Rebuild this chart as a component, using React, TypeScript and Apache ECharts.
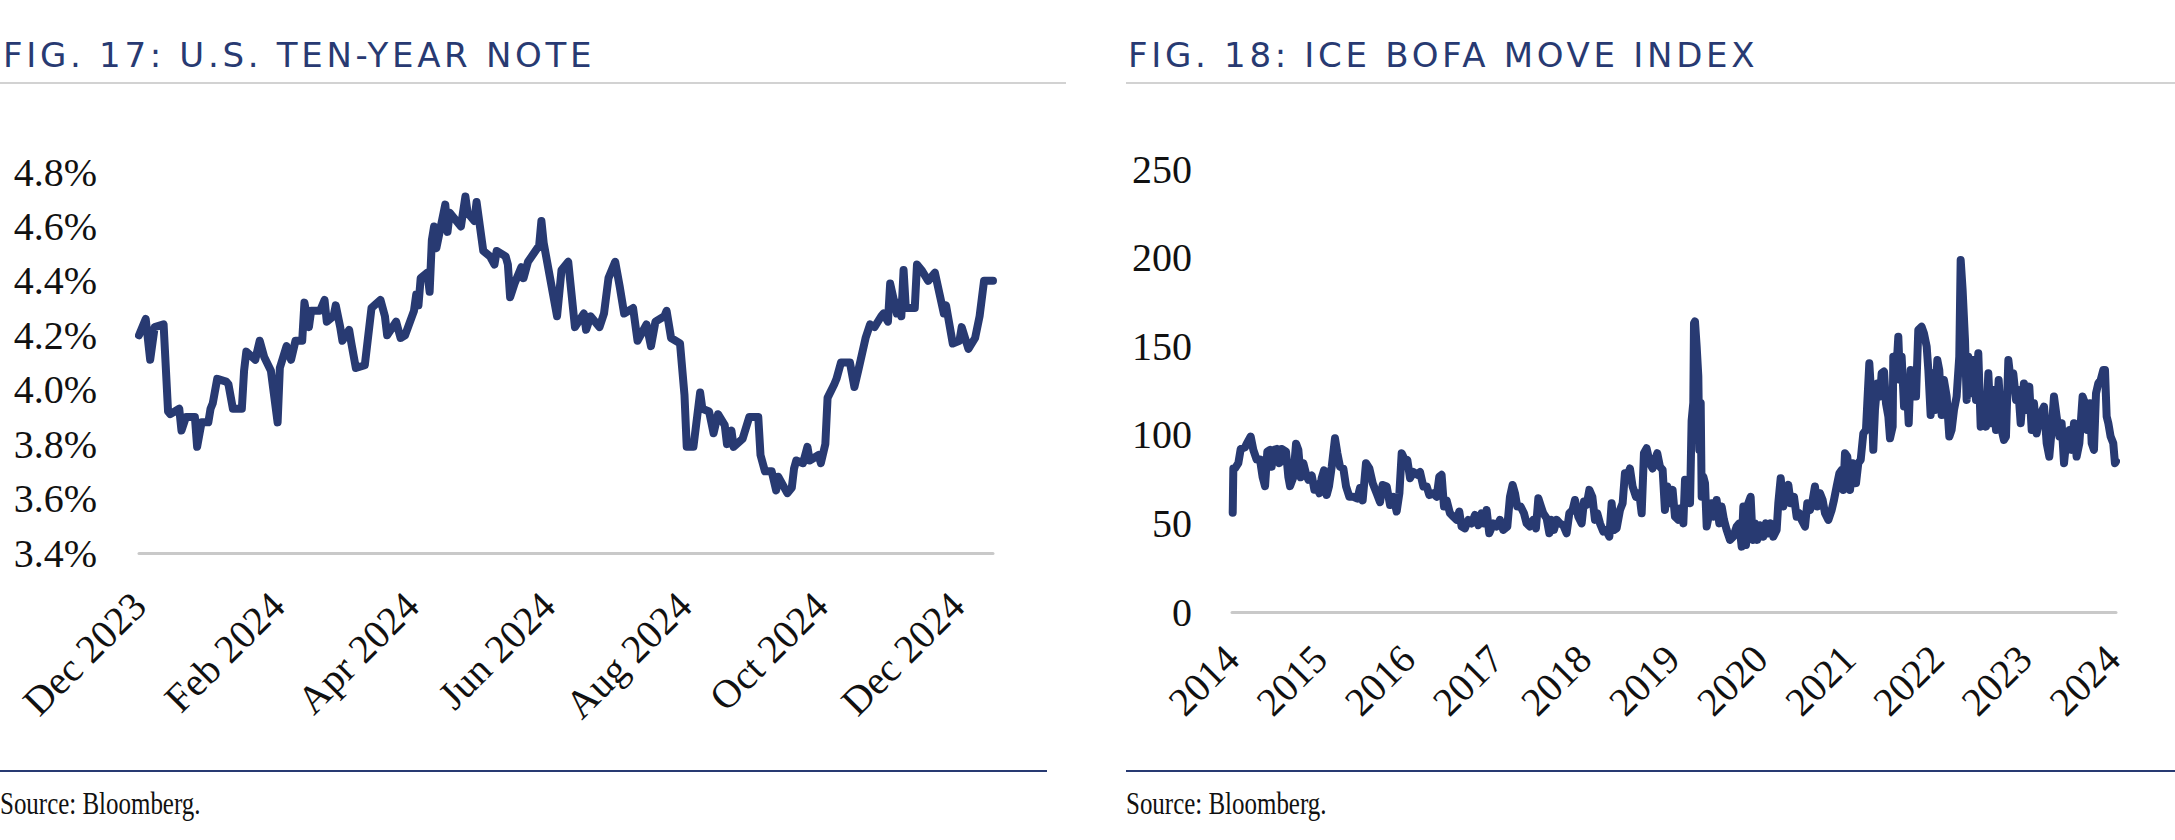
import React, { useEffect, useRef } from 'react';
import * as echarts from 'echarts';

// ---------- FIG. 17: U.S. ten-year note yield (%) ----------
const T10_DATES = [
  '2023-12-01', '2023-12-04', '2023-12-06', '2023-12-08', '2023-12-12', '2023-12-14', '2023-12-15', '2023-12-19',
  '2023-12-20', '2023-12-22', '2023-12-26', '2023-12-27', '2023-12-29', '2024-01-01', '2024-01-02', '2024-01-03',
  '2024-01-05', '2024-01-09', '2024-01-10', '2024-01-12', '2024-01-16', '2024-01-17', '2024-01-18', '2024-01-22',
  '2024-01-24', '2024-01-26', '2024-01-29', '2024-02-01', '2024-02-02', '2024-02-05', '2024-02-07', '2024-02-09',
  '2024-02-12', '2024-02-13', '2024-02-15', '2024-02-16', '2024-02-20', '2024-02-22', '2024-02-23', '2024-02-26',
  '2024-02-27', '2024-02-29', '2024-03-01', '2024-03-04', '2024-03-05', '2024-03-07', '2024-03-11', '2024-03-14',
  '2024-03-18', '2024-03-20', '2024-03-21', '2024-03-25', '2024-03-27', '2024-03-29', '2024-04-02', '2024-04-03',
  '2024-04-04', '2024-04-05', '2024-04-08', '2024-04-09', '2024-04-10', '2024-04-11', '2024-04-12', '2024-04-16',
  '2024-04-17', '2024-04-18', '2024-04-23', '2024-04-25', '2024-04-26', '2024-04-29', '2024-04-30', '2024-05-03',
  '2024-05-06', '2024-05-08', '2024-05-09', '2024-05-13', '2024-05-14', '2024-05-15', '2024-05-17', '2024-05-20',
  '2024-05-21', '2024-05-23', '2024-05-28', '2024-05-29', '2024-05-30', '2024-06-03', '2024-06-05', '2024-06-07',
  '2024-06-10', '2024-06-11', '2024-06-13', '2024-06-17', '2024-06-18', '2024-06-20', '2024-06-24', '2024-06-26',
  '2024-06-28', '2024-07-01', '2024-07-03', '2024-07-05', '2024-07-09', '2024-07-11', '2024-07-15', '2024-07-17',
  '2024-07-19', '2024-07-23', '2024-07-24', '2024-07-26', '2024-07-30', '2024-08-01', '2024-08-02', '2024-08-05',
  '2024-08-08', '2024-08-09', '2024-08-12', '2024-08-14', '2024-08-16', '2024-08-19', '2024-08-20', '2024-08-22',
  '2024-08-23', '2024-08-27', '2024-08-30', '2024-09-03', '2024-09-04', '2024-09-06', '2024-09-09', '2024-09-11',
  '2024-09-12', '2024-09-16', '2024-09-18', '2024-09-19', '2024-09-20', '2024-09-23', '2024-09-25', '2024-09-26',
  '2024-09-30', '2024-10-01', '2024-10-03', '2024-10-04', '2024-10-07', '2024-10-08', '2024-10-10', '2024-10-14',
  '2024-10-16', '2024-10-18', '2024-10-21', '2024-10-23', '2024-10-25', '2024-10-28', '2024-10-29', '2024-10-31',
  '2024-11-01', '2024-11-04', '2024-11-05', '2024-11-06', '2024-11-07', '2024-11-08', '2024-11-12', '2024-11-13',
  '2024-11-15', '2024-11-18', '2024-11-21', '2024-11-25', '2024-11-26', '2024-11-29', '2024-12-02', '2024-12-03',
  '2024-12-06', '2024-12-09', '2024-12-11', '2024-12-13', '2024-12-17',
];
const T10_YIELDS = [
  4.20, 4.26, 4.11, 4.23, 4.24, 3.92, 3.91, 3.93,
  3.85, 3.90, 3.90, 3.79, 3.88, 3.88, 3.93, 3.95,
  4.04, 4.03, 4.02, 3.93, 3.93, 4.07, 4.14, 4.11,
  4.18, 4.12, 4.07, 3.88, 4.08, 4.16, 4.11, 4.18,
  4.18, 4.32, 4.23, 4.29, 4.29, 4.33, 4.25, 4.27,
  4.31, 4.23, 4.18, 4.22, 4.17, 4.08, 4.09, 4.30,
  4.33, 4.27, 4.20, 4.25, 4.19, 4.20, 4.29, 4.35,
  4.31, 4.41, 4.43, 4.36, 4.55, 4.60, 4.52, 4.68,
  4.58, 4.65, 4.60, 4.71, 4.65, 4.62, 4.69, 4.51,
  4.49, 4.46, 4.51, 4.49, 4.46, 4.34, 4.39, 4.45,
  4.41, 4.47, 4.53, 4.62, 4.54, 4.36, 4.27, 4.44,
  4.47, 4.39, 4.23, 4.28, 4.22, 4.27, 4.23, 4.28,
  4.41, 4.47, 4.38, 4.28, 4.30, 4.18, 4.24, 4.16,
  4.25, 4.27, 4.29, 4.19, 4.17, 3.98, 3.79, 3.79,
  3.99, 3.93, 3.92, 3.84, 3.91, 3.87, 3.80, 3.85,
  3.79, 3.82, 3.90, 3.90, 3.76, 3.70, 3.70, 3.63,
  3.68, 3.62, 3.64, 3.71, 3.74, 3.73, 3.79, 3.74,
  3.76, 3.73, 3.80, 3.97, 4.02, 4.04, 4.10, 4.10,
  4.01, 4.08, 4.19, 4.24, 4.23, 4.27, 4.28, 4.25,
  4.39, 4.28, 4.32, 4.27, 4.44, 4.30, 4.30, 4.46,
  4.44, 4.40, 4.43, 4.28, 4.31, 4.17, 4.18, 4.23,
  4.15, 4.19, 4.27, 4.40, 4.40,
];
const T10_LABEL_DATES = ['2023-12-01', '2024-02-01', '2024-04-01', '2024-06-01', '2024-08-01', '2024-10-01', '2024-12-01'];
const T10_AXIS_MIN = 3.4;
const T10_AXIS_MAX = 4.8;
const T10_AXIS_STEP = 0.2;

// ---------- FIG. 18: ICE BofA MOVE index (time in decimal years) ----------
const MOVE_TIME = [
  2014.958, 2014.965, 2014.984, 2015.022, 2015.049, 2015.098, 2015.117, 2015.162, 2015.192, 2015.230,
  2015.268, 2015.298, 2015.325, 2015.351, 2015.382, 2015.400, 2015.427, 2015.457, 2015.488, 2015.514,
  2015.563, 2015.590, 2015.609, 2015.646, 2015.677, 2015.703, 2015.730, 2015.760, 2015.790, 2015.817,
  2015.855, 2015.885, 2015.911, 2015.942, 2015.968, 2015.995, 2016.025, 2016.051, 2016.082, 2016.119,
  2016.146, 2016.176, 2016.214, 2016.244, 2016.282, 2016.327, 2016.373, 2016.403, 2016.433, 2016.471,
  2016.509, 2016.547, 2016.592, 2016.630, 2016.660, 2016.706, 2016.744, 2016.781, 2016.819, 2016.850,
  2016.876, 2016.903, 2016.940, 2016.971, 2017.009, 2017.054, 2017.084, 2017.122, 2017.160, 2017.190,
  2017.235, 2017.273, 2017.303, 2017.329, 2017.356, 2017.386, 2017.424, 2017.462, 2017.500, 2017.530,
  2017.556, 2017.594, 2017.632, 2017.670, 2017.708, 2017.746, 2017.783, 2017.810, 2017.840, 2017.870,
  2017.916, 2017.954, 2017.992, 2018.029, 2018.075, 2018.105, 2018.135, 2018.162, 2018.188, 2018.226,
  2018.264, 2018.294, 2018.332, 2018.370, 2018.400, 2018.427, 2018.457, 2018.483, 2018.521, 2018.552,
  2018.578, 2018.604, 2018.635, 2018.673, 2018.710, 2018.748, 2018.779, 2018.816, 2018.843, 2018.881,
  2018.919, 2018.945, 2018.975, 2019.006, 2019.040, 2019.070, 2019.096, 2019.127, 2019.164, 2019.195,
  2019.233, 2019.259, 2019.286, 2019.316, 2019.354, 2019.384, 2019.410, 2019.437, 2019.467, 2019.497,
  2019.535, 2019.573, 2019.600, 2019.626, 2019.656, 2019.694, 2019.724, 2019.751, 2019.777, 2019.808,
  2019.838, 2019.864, 2019.891, 2019.921, 2019.951, 2019.978, 2020.016, 2020.042, 2020.073, 2020.092,
  2020.130, 2020.149, 2020.167, 2020.186, 2020.194, 2020.205, 2020.224, 2020.243, 2020.254, 2020.270,
  2020.281, 2020.300, 2020.319, 2020.338, 2020.368, 2020.394, 2020.421, 2020.451, 2020.481, 2020.508,
  2020.534, 2020.565, 2020.603, 2020.640, 2020.678, 2020.708, 2020.735, 2020.754, 2020.784, 2020.811,
  2020.837, 2020.860, 2020.886, 2020.913, 2020.943, 2020.981, 2021.011, 2021.038, 2021.064, 2021.094,
  2021.132, 2021.151, 2021.178, 2021.208, 2021.238, 2021.265, 2021.291, 2021.329, 2021.359, 2021.390,
  2021.416, 2021.454, 2021.480, 2021.511, 2021.541, 2021.567, 2021.594, 2021.624, 2021.654, 2021.681,
  2021.719, 2021.757, 2021.783, 2021.813, 2021.844, 2021.870, 2021.889, 2021.908, 2021.934, 2021.965,
  2021.995, 2022.033, 2022.059, 2022.086, 2022.116, 2022.146, 2022.161, 2022.184, 2022.211, 2022.229,
  2022.248, 2022.275, 2022.305, 2022.324, 2022.351, 2022.373, 2022.400, 2022.419, 2022.449, 2022.456,
  2022.487, 2022.513, 2022.532, 2022.551, 2022.578, 2022.608, 2022.631, 2022.653, 2022.684, 2022.714,
  2022.740, 2022.778, 2022.804, 2022.835, 2022.854, 2022.880, 2022.903, 2022.929, 2022.956, 2022.978,
  2023.005, 2023.031, 2023.062, 2023.092, 2023.118, 2023.145, 2023.175, 2023.205, 2023.221, 2023.243,
  2023.270, 2023.289, 2023.308, 2023.334, 2023.364, 2023.395, 2023.421, 2023.448, 2023.478, 2023.508,
  2023.535, 2023.561, 2023.591, 2023.622, 2023.652, 2023.686, 2023.712, 2023.735, 2023.762, 2023.788,
  2023.818, 2023.849, 2023.875, 2023.902, 2023.939, 2023.970, 2024.000, 2024.027, 2024.053, 2024.083,
  2024.114, 2024.140, 2024.167, 2024.197, 2024.227, 2024.254, 2024.280, 2024.310, 2024.341, 2024.367,
  2024.394, 2024.424, 2024.454, 2024.481, 2024.507, 2024.537, 2024.568, 2024.605, 2024.632, 2024.658,
  2024.689, 2024.708, 2024.734, 2024.757, 2024.783, 2024.810, 2024.840, 2024.859, 2024.878, 2024.897,
  2024.923, 2024.953, 2024.972, 2024.984,
];
const MOVE_VALUES = [
  56, 81, 81, 84, 92, 93, 95, 99, 91.5, 86,
  86, 76, 71, 90.5, 91.5, 82, 91.5, 92, 84, 92,
  90.5, 76, 71, 76, 95, 91.5, 76, 84, 78, 74.6,
  77, 69, 72, 67, 75.5, 80, 66, 71, 82, 98,
  89.6, 82, 81, 71, 65, 65, 64, 70, 63, 84,
  81, 72.7, 67, 62, 71.7, 70.8, 60.4, 65, 56.7, 67,
  89.6, 86.8, 85.8, 75.5, 79, 77.4, 79, 70.8, 70.8, 66,
  67, 65, 76.4, 77.4, 59.5, 63, 55.7, 53.8, 52, 56.7,
  48.2, 47.2, 52, 50, 54.8, 49, 55.7, 50, 57.6, 44.4,
  50, 48.2, 52, 46.3, 48.2, 65, 71.7, 67, 59.5, 59.5,
  55.7, 50, 48.2, 52, 47.2, 64.2, 59.5, 55.7, 52.9, 44.4,
  52, 46.3, 52, 50, 49, 44.4, 55.7, 57.6, 63.2, 53.8,
  50, 62.3, 60.4, 68.9, 65, 52, 55.7, 50, 45.4, 46.3,
  42.5, 61.4, 46.3, 47.2, 57.6, 61.4, 78.3, 76.4, 81, 70.8,
  65, 67, 55.7, 89.6, 92.4, 84, 81, 85.8, 89.6, 82,
  80.2, 57.6, 70.8, 61.4, 68.9, 53.8, 52, 58.5, 50, 74.6,
  65, 61.4, 108, 118, 163, 164, 150, 133, 91.5, 118,
  65, 76.4, 72.7, 48.2, 55.7, 61.4, 53.8, 63.2, 50, 59.5,
  52, 46.3, 40.7, 42.5, 48.2, 50, 36.9, 59.5, 37.8, 61.4,
  65, 40.7, 50, 40.7, 49, 42.5, 50, 44.4, 50, 42.5,
  46.3, 61.4, 75.5, 59.5, 67, 71.7, 61.4, 65, 53.8, 55.7,
  52, 48.2, 61.4, 57.6, 63.2, 70.8, 59.5, 67, 63.2, 55.7,
  52, 57.6, 63.2, 70.8, 78.3, 80.2, 68.9, 89.6, 87.7, 68.9,
  84, 72.7, 84, 85.8, 100.8, 102.7, 117.8, 140.4, 117.8, 91.5,
  114, 129, 121.6, 134.7, 135.7, 117.8, 110.3, 98, 104.6, 144,
  132.8, 155.4, 131, 144, 116, 129, 106.5, 136.6, 121.6, 121.6,
  159.2, 161, 157.3, 149.8, 136.6, 111.2, 134.7, 114, 142.2, 136.6,
  111.2, 130.9, 121.6, 99, 102.7, 114, 121.6, 144, 198.7, 181.7,
  153.5, 119.7, 144, 123.4, 142.2, 119.7, 146, 104.6, 114, 104.6,
  134.7, 106.5, 125.3, 102.7, 130.9, 102.7, 97.1, 99, 142.2, 130.9,
  134.7, 119.7, 125.3, 106.5, 129, 114, 127.2, 102.7, 117.8, 100.8,
  108.4, 113, 115.9, 95.2, 87.7, 102.7, 121.6, 110.3, 99, 106.5,
  84, 99, 102.7, 91.5, 106.5, 87.7, 95.2, 121.6, 117.8, 102.7,
  117.8, 95.2, 91.5, 123.4, 129, 130.9, 136.6, 136.6, 110.3, 106.5,
  99, 95.2, 84, 85,
];
const MOVE_LABEL_TIME = [2014.95, 2015.95, 2016.95, 2017.95, 2018.95, 2019.95, 2020.95, 2021.95, 2022.95, 2023.95, 2024.95];
const MOVE_LABELS = ['2014', '2015', '2016', '2017', '2018', '2019', '2020', '2021', '2022', '2023', '2024'];
const MOVE_AXIS_MIN = 0;
const MOVE_AXIS_MAX = 250;
const MOVE_AXIS_STEP = 50;

const MONTHS = ['Jan', 'Feb', 'Mar', 'Apr', 'May', 'Jun', 'Jul', 'Aug', 'Sep', 'Oct', 'Nov', 'Dec'];

const NAVY = '#283a72';
const SERIF = "'Liberation Serif', 'DejaVu Serif', serif";
const TITLE_FONT = "'DejaVu Sans', 'Noto Sans', sans-serif";

const ts = (s: string) => {
  const [y, m, d] = s.split('-').map(Number);
  return Date.UTC(y, m - 1, d);
};

export default function App() {
  const ref = useRef<HTMLDivElement>(null);

  useEffect(() => {
    const el = ref.current;
    if (!el) return;
    const chart = echarts.init(el, undefined, { renderer: 'svg' });

    const labelStyle = { fontSize: 40, fontFamily: SERIF, color: '#111' };
    const t10Data = T10_DATES.map((d, i) => [ts(d), T10_YIELDS[i]]);
    const moveData = MOVE_TIME.map((t, i) => [t, MOVE_VALUES[i]]);

    const sourceText = (x: number) => ({
      type: 'text',
      x,
      y: 803,
      scaleX: 0.78,
      style: { text: 'Source: Bloomberg.', fontSize: 32, fontFamily: SERIF, fill: '#111', align: 'left', verticalAlign: 'middle' },
    });

    chart.setOption({
      animation: false,
      grid: [
        { left: 139, top: 172, width: 854, height: 381 },
        { left: 1232, top: 169, width: 884, height: 443 },
      ],
      xAxis: [
        {
          type: 'value',
          gridIndex: 0,
          min: ts(T10_DATES[0]),
          max: ts(T10_DATES[T10_DATES.length - 1]),
          axisLine: { show: true, lineStyle: { color: '#c9c9c9', width: 3 } },
          axisTick: { show: false },
          splitLine: { show: false },
          axisLabel: {
            ...labelStyle,
            customValues: T10_LABEL_DATES.map(ts),
            rotate: 45,
            margin: 46,
            formatter: (v: number) => {
              const d = new Date(v);
              return MONTHS[d.getUTCMonth()] + ' ' + d.getUTCFullYear();
            },
          },
        },
        {
          type: 'value',
          gridIndex: 1,
          min: MOVE_LABEL_TIME[0],
          max: MOVE_TIME[MOVE_TIME.length - 1],
          axisLine: { show: true, lineStyle: { color: '#c9c9c9', width: 3 } },
          axisTick: { show: false },
          splitLine: { show: false },
          axisLabel: {
            ...labelStyle,
            customValues: MOVE_LABEL_TIME,
            rotate: 45,
            margin: 40,
            formatter: (v: number) => {
              const i = MOVE_LABEL_TIME.findIndex((t) => Math.abs(t - v) < 0.01);
              return i >= 0 ? MOVE_LABELS[i] : '';
            },
          },
        },
      ],
      yAxis: [
        {
          type: 'value',
          gridIndex: 0,
          min: T10_AXIS_MIN,
          max: T10_AXIS_MAX,
          interval: T10_AXIS_STEP,
          axisLine: { show: false },
          axisTick: { show: false },
          splitLine: { show: false },
          axisLabel: { ...labelStyle, margin: 42, formatter: (v: number) => v.toFixed(1) + '%' },
        },
        {
          type: 'value',
          gridIndex: 1,
          min: MOVE_AXIS_MIN,
          max: MOVE_AXIS_MAX,
          interval: MOVE_AXIS_STEP,
          axisLine: { show: false },
          axisTick: { show: false },
          splitLine: { show: false },
          axisLabel: { ...labelStyle, margin: 40 },
        },
      ],
      series: [
        {
          type: 'line',
          xAxisIndex: 0,
          yAxisIndex: 0,
          data: t10Data,
          showSymbol: false,
          clip: false,
          lineStyle: { color: NAVY, width: 8, join: 'round', cap: 'round' },
        },
        {
          type: 'line',
          xAxisIndex: 1,
          yAxisIndex: 1,
          data: moveData,
          showSymbol: false,
          clip: false,
          lineStyle: { color: NAVY, width: 8, join: 'round', cap: 'round' },
        },
      ],
      graphic: [
        { type: 'line', shape: { x1: 0, y1: 83, x2: 1066, y2: 83 }, style: { stroke: '#d2d2d2', lineWidth: 2 } },
        { type: 'line', shape: { x1: 1126, y1: 83, x2: 2175, y2: 83 }, style: { stroke: '#d2d2d2', lineWidth: 2 } },
        { type: 'line', shape: { x1: 0, y1: 771, x2: 1047, y2: 771 }, style: { stroke: NAVY, lineWidth: 2 } },
        { type: 'line', shape: { x1: 1126, y1: 771, x2: 2175, y2: 771 }, style: { stroke: NAVY, lineWidth: 2 } },
        {
          type: 'text',
          x: 3,
          y: 55,
          style: {
            text: 'FIG. 17: U.S. TEN-YEAR NOTE',
            fontSize: 34,
            fontFamily: TITLE_FONT,
            fill: NAVY,
            align: 'left',
            verticalAlign: 'middle',
          },
        },
        {
          type: 'text',
          x: 1128,
          y: 55,
          style: {
            text: 'FIG. 18: ICE BOFA MOVE INDEX',
            fontSize: 34,
            fontFamily: TITLE_FONT,
            fill: NAVY,
            align: 'left',
            verticalAlign: 'middle',
          },
        },
        sourceText(0),
        sourceText(1126),
      ],
    });

    const spaceTitles = () => {
      el.querySelectorAll('text').forEach((t) => {
        if ((t.textContent || '').startsWith('FIG.')) {
          t.setAttribute('letter-spacing', '3.7');
          (t as SVGTextElement).style.letterSpacing = '3.7px';
        }
      });
    };
    spaceTitles();
    const raf = requestAnimationFrame(spaceTitles);
    const tid = setTimeout(spaceTitles, 60);

    return () => {
      cancelAnimationFrame(raf);
      clearTimeout(tid);
      chart.dispose();
    };
  }, []);

  return <div ref={ref} style={{ position: 'absolute', left: 0, top: 0, width: 2175, height: 840 }} />;
}
